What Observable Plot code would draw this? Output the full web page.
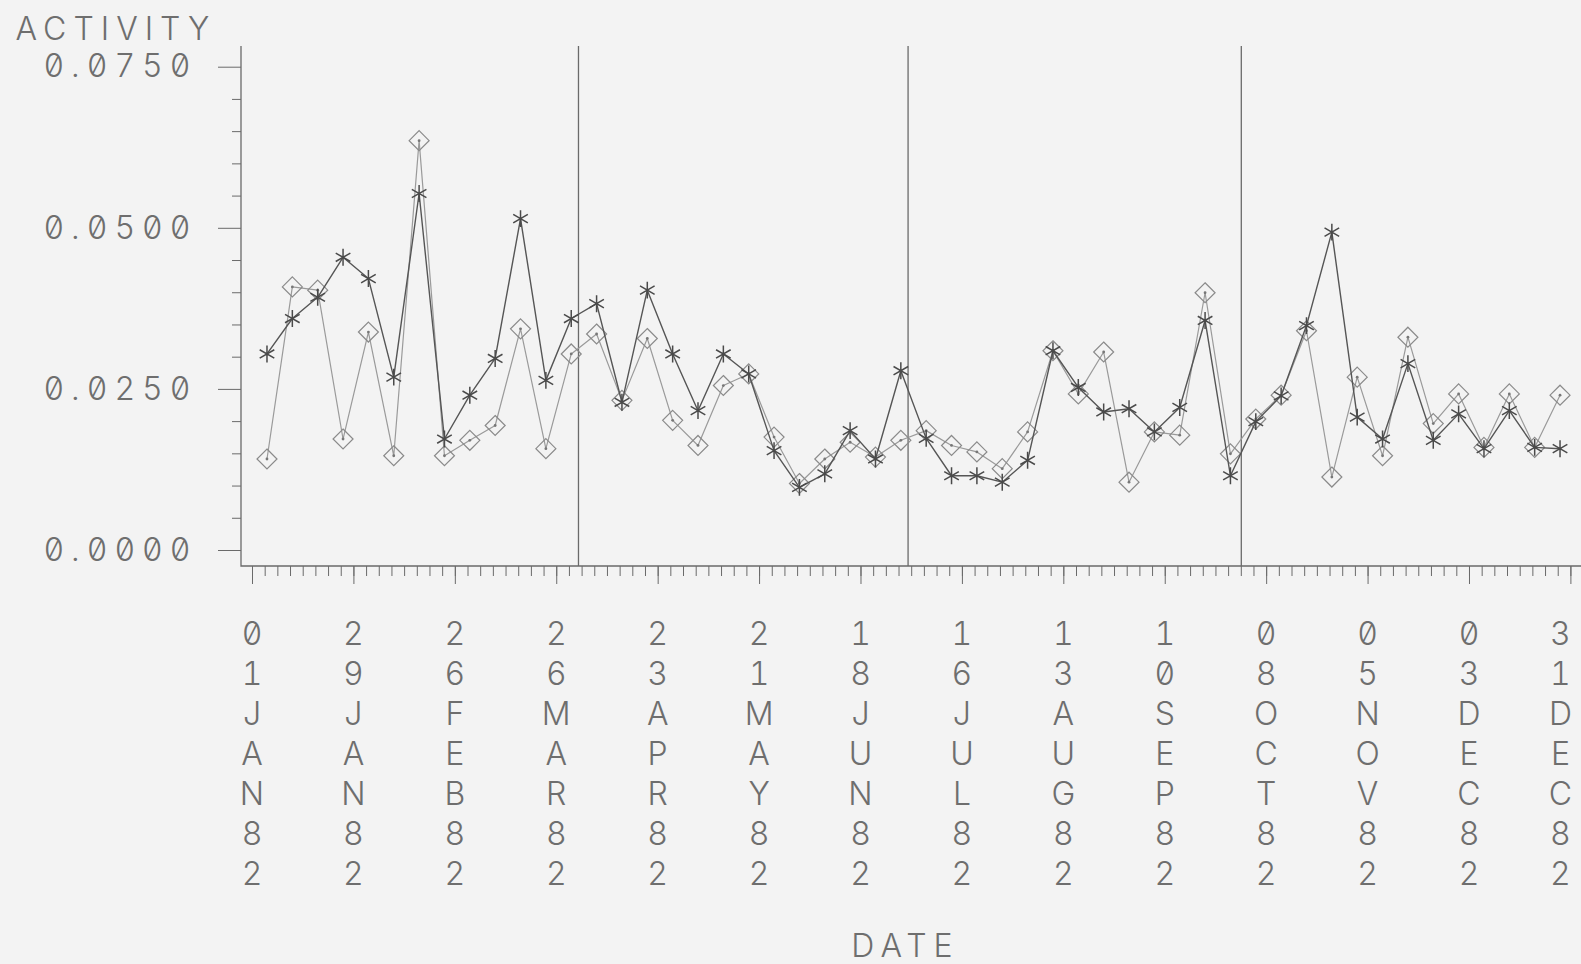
<!DOCTYPE html>
<html>
<head>
<meta charset="utf-8">
<script src="https://cdn.jsdelivr.net/npm/d3@7"></script>
<script src="https://cdn.jsdelivr.net/npm/@observablehq/plot@0.6"></script>
<style>
  html, body { margin: 0; padding: 0; background: #f3f3f3; }
  #chart svg { display: block; }
  #chart svg text, #chart svg tspan { font-feature-settings: "zero" 1, "tnum" 1; font-variant-numeric: slashed-zero tabular-nums; }
  #chart svg g[aria-label="date-labels"] text, #chart svg g[aria-label="date-labels"] tspan { letter-spacing: 0; }
</style>
</head>
<body>
<div id="chart"></div>
<script>
// ---- data ----
const weekDates = [
  "1982-01-05","1982-01-12","1982-01-19","1982-01-26",
  "1982-02-02","1982-02-09","1982-02-16","1982-02-23",
  "1982-03-02","1982-03-09","1982-03-16","1982-03-23","1982-03-30",
  "1982-04-06","1982-04-13","1982-04-20","1982-04-27",
  "1982-05-04","1982-05-11","1982-05-18","1982-05-25",
  "1982-06-01","1982-06-08","1982-06-15","1982-06-22","1982-06-29",
  "1982-07-06","1982-07-13","1982-07-20","1982-07-27",
  "1982-08-03","1982-08-10","1982-08-17","1982-08-24","1982-08-31",
  "1982-09-07","1982-09-14","1982-09-21","1982-09-28",
  "1982-10-05","1982-10-12","1982-10-19","1982-10-26",
  "1982-11-02","1982-11-09","1982-11-16","1982-11-23","1982-11-30",
  "1982-12-07","1982-12-14","1982-12-21","1982-12-28"
];
const asteriskValues = [
  0.0305,0.0360,0.0393,0.0455,0.0422,0.0269,0.0554,0.0173,0.0241,0.0298,
  0.0515,0.0264,0.0360,0.0383,0.0230,0.0404,0.0305,0.0217,0.0305,0.0274,
  0.0155,0.0098,0.0119,0.0186,0.0142,0.0279,0.0174,0.0116,0.0116,0.0106,
  0.0140,0.0310,0.0253,0.0215,0.0220,0.0184,0.0222,0.0357,0.0116,0.0200,
  0.0240,0.0349,0.0494,0.0207,0.0173,0.0290,0.0171,0.0212,0.0158,0.0217,
  0.0160,0.0158
];
const diamondValues = [
  0.0142,0.0409,0.0404,0.0173,0.0339,0.0147,0.0636,0.0147,0.0171,0.0194,
  0.0344,0.0158,0.0305,0.0336,0.0233,0.0329,0.0202,0.0163,0.0256,0.0274,
  0.0176,0.0104,0.0142,0.0168,0.0145,0.0171,0.0186,0.0163,0.0153,0.0127,
  0.0184,0.0310,0.0243,0.0308,0.0106,0.0184,0.0179,0.0400,0.0150,0.0204,
  0.0241,0.0341,0.0114,0.0269,0.0147,0.0331,0.0197,0.0243,0.0160,0.0243,
  0.0160,0.0241
];
const tickDates = [
  "1982-01-01","1982-01-29","1982-02-26","1982-03-26","1982-04-23","1982-05-21","1982-06-18",
  "1982-07-16","1982-08-13","1982-09-10","1982-10-08","1982-11-05","1982-12-03","1982-12-31"
];
const tickLabels = [
  "01JAN82","29JAN82","26FEB82","26MAR82","23APR82","21MAY82","18JUN82",
  "16JUL82","13AUG82","10SEP82","08OCT82","05NOV82","03DEC82","31DEC82"
];
const quarterDates = ["1982-04-01","1982-07-01","1982-10-01"];
const yMajorTicks = [0, 0.025, 0.05, 0.075];
const yMinorTicks = [0.005,0.010,0.015,0.020,0.030,0.035,0.040,0.045,0.055,0.060,0.065,0.070];
const yTitle = "ACTIVITY";
const xTitle = "DATE";

// ---- build ----
const rows = weekDates.map((d, i) => ({date: new Date(d), asterisk: asteriskValues[i], diamond: diamondValues[i]}));
const tDates = tickDates.map(d => new Date(d));
const labelRows = tDates.map((d, i) => ({date: d, label: tickLabels[i].split("").join("\n"), last: i === tDates.length - 1}));
const DAY = 864e5;
// minor x ticks: 8 per 28-day label interval
const minorDates = [];
for (let i = 0; i < tDates.length; i++) {
  for (let k = 0; k < 8; k++) {
    const t = +tDates[i] + k * 3.5 * DAY;
    if (t <= +tDates[tDates.length - 1] + 1) minorDates.push(new Date(t));
  }
}

const textColor = "#6e6e6e";
const axisColor = "#6a6a6a";
const font = "Inter, 'DejaVu Sans', sans-serif";
const fs = 32;

const axisFrame = (index, scales, values, dims) => {
  const {width, height, marginLeft, marginRight, marginTop, marginBottom} = dims;
  return d3.create("svg:path")
    .attr("d", `M${marginLeft},${marginTop}V${height - marginBottom}H${width - marginRight}`)
    .attr("fill", "none").attr("stroke", axisColor).attr("stroke-width", 1.3)
    .node();
};

const chart = Plot.plot({
  width: 1581,
  height: 964,
  marginLeft: 241,
  marginRight: 0,
  marginTop: 46,
  marginBottom: 398,
  x: {type: "utc", domain: [tDates[0], tDates[tDates.length - 1]], range: [252, 1570.4], label: null},
  y: {domain: [0, 0.075], range: [550, 66.7], label: null},
  style: `background:#f3f3f3;color:${textColor};font-family:${font};font-size:${fs}px;font-weight:300;letter-spacing:7px;`,
  marks: [
    Plot.ruleX(quarterDates.map(d => new Date(d)), {stroke: axisColor, strokeWidth: 1.3}),
    axisFrame,
    Plot.axisY(yMinorTicks, {tickSize: 9, stroke: axisColor, fill: "none", label: null}),
    Plot.axisY(yMajorTicks, {tickSize: 23, tickPadding: 21, stroke: axisColor, fill: textColor,
      tickFormat: d3.format(".4f"), fontSize: fs, fontFamily: font, label: null}),
    Plot.axisX(minorDates, {tickSize: 10, stroke: axisColor, fill: "none", label: null}),
    Plot.axisX(tDates, {tickSize: 18, stroke: axisColor, fill: "none", label: null}),
    Plot.text(labelRows.filter(d => !d.last), {
      x: "date", text: "label", ariaLabel: "date-labels",
      frameAnchor: "bottom", lineAnchor: "top", lineHeight: 1.25,
      dy: 50, dx: 3, fontSize: fs, fontFamily: font, fill: textColor
    }),
    Plot.text(labelRows.filter(d => d.last), {
      x: "date", text: "label", ariaLabel: "date-labels",
      frameAnchor: "bottom", lineAnchor: "top", lineHeight: 1.25,
      dy: 50, dx: -7, fontSize: fs, fontFamily: font, fill: textColor
    }),
    Plot.text([yTitle], {frameAnchor: "top-left", textAnchor: "start", lineAnchor: "top",
      dx: -226, dy: -29, fontSize: fs, fontFamily: font, fill: textColor}),
    Plot.text([xTitle], {frameAnchor: "bottom", lineAnchor: "top",
      dx: -6, dy: 368, fontSize: fs, fontFamily: font, fill: textColor}),
    // diamond series (lighter)
    Plot.line(rows, {x: "date", y: "diamond", stroke: "#9a9a9a", strokeWidth: 1.2}),
    Plot.dot(rows, {x: "date", y: "diamond", symbol: "diamond2", r: 9, stroke: "#8a8a8a", strokeWidth: 1.2, fill: "none"}),
    Plot.dot(rows, {x: "date", y: "diamond", r: 1.4, fill: "#777", stroke: "none"}),
    // asterisk series (darker)
    Plot.line(rows, {x: "date", y: "asterisk", stroke: "#555", strokeWidth: 1.4}),
    Plot.dot(rows, {x: "date", y: "asterisk", symbol: "asterisk", r: 8, stroke: "#4a4a4a", strokeWidth: 1.5})
  ]
});
document.getElementById("chart").appendChild(chart);
</script>
</body>
</html>
